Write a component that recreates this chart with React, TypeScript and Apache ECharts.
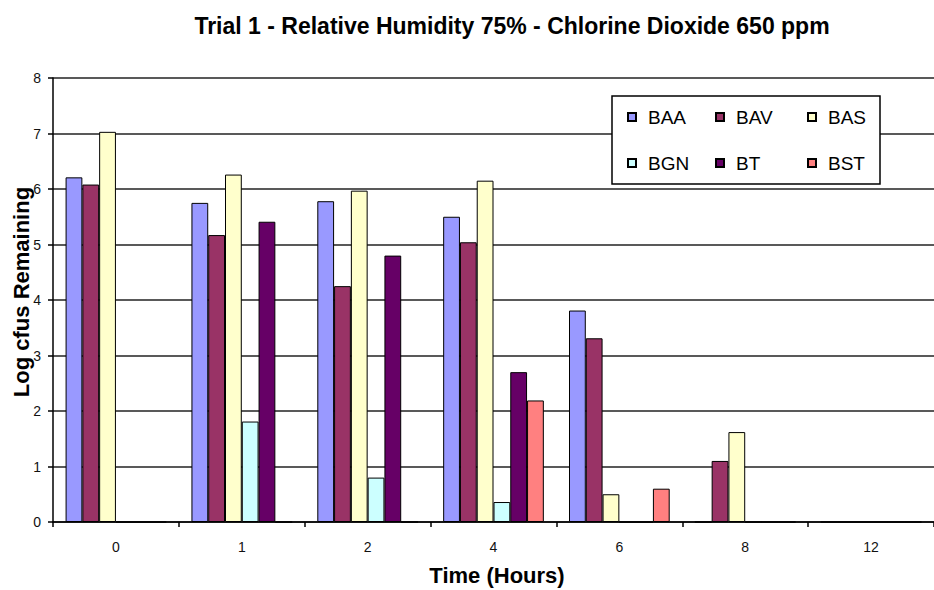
import React, { useEffect, useRef } from "react";
import * as echarts from "echarts";

const categories = ["0", "1", "2", "4", "6", "8", "12"];
const seriesNames = ["BAA", "BAV", "BAS", "BGN", "BT", "BST"];
const BAA = [6.21, 5.75, 5.78, 5.5, 3.81, 0, 0];
const BAV = [6.08, 5.17, 4.25, 5.04, 3.31, 1.1, 0];
const BAS = [7.03, 6.26, 5.97, 6.15, 0.5, 1.62, 0];
const BGN = [0, 1.81, 0.8, 0.36, 0, 0, 0];
const BT = [0, 5.41, 4.8, 2.7, 0, 0, 0];
const BST = [0, 0, 0, 2.19, 0.6, 0, 0];
const seriesValues = [BAA, BAV, BAS, BGN, BT, BST];
const colors = ["#9999FF", "#993366", "#FFFFCC", "#CCFFFF", "#660066", "#FF8080"];
const yTicks = [0, 1, 2, 3, 4, 5, 6, 7, 8];
const titleText = "Trial 1 - Relative Humidity 75% - Chlorine Dioxide 650 ppm";
const xName = "Time (Hours)";
const yName = "Log cfus Remaining";

const SANS = '"Liberation Sans", Arial, sans-serif';

export default function App() {
  const ref = useRef<HTMLDivElement>(null);
  useEffect(() => {
    if (!ref.current) return;
    const chart = echarts.init(ref.current, undefined, { renderer: "svg" });
    const legendCols = [
      ["BAA", "BGN"],
      ["BAV", "BT"],
      ["BAS", "BST"],
    ];
    const legendLefts = [627, 715, 807];
    chart.setOption({
      animation: false,
      backgroundColor: "#ffffff",
      title: {
        text: titleText,
        left: 507,
        top: 9,
        textAlign: "center",
        textStyle: { fontFamily: SANS, fontSize: 23, fontWeight: "bold", color: "#000" },
      },
      grid: { left: 53, top: 78, width: 890, height: 444, containLabel: false },
      legend: legendCols.map((d, i) => ({
        data: d,
        orient: "vertical",
        left: legendLefts[i],
        top: 107,
        itemWidth: 8,
        itemHeight: 8,
        itemGap: 26,
        icon: "rect",
        padding: 0,
        z: 5,
        textStyle: { fontFamily: SANS, fontSize: 19, color: "#000", lineHeight: 20, padding: [0, 0, 0, 7] },
      })),
      graphic: [
        {
          type: "rect",
          z: 4,
          shape: { x: 612, y: 96, width: 268, height: 88 },
          style: { fill: "#fff", stroke: "#000", lineWidth: 1.5 },
        },
        {
          type: "text",
          x: 21,
          y: 292,
          rotation: Math.PI / 2,
          style: {
            text: yName,
            fontFamily: SANS,
            fontSize: 22,
            fontWeight: "bold",
            fill: "#000",
            align: "center",
            verticalAlign: "middle",
          },
        },
        {
          type: "text",
          x: 497,
          y: 575,
          style: {
            text: xName,
            fontFamily: SANS,
            fontSize: 22,
            fontWeight: "bold",
            fill: "#000",
            align: "center",
            verticalAlign: "middle",
          },
        },
      ],
      xAxis: {
        type: "category",
        data: categories,
        axisLine: { lineStyle: { color: "#000", width: 1.5 } },
        axisTick: { show: true, length: 5, lineStyle: { color: "#000", width: 1.5 } },
        axisLabel: { margin: 18, fontFamily: SANS, fontSize: 14, color: "#111" },
        splitLine: { show: false },
      },
      yAxis: {
        type: "value",
        min: yTicks[0],
        max: yTicks[yTicks.length - 1],
        interval: 1,
        axisLine: { show: true, lineStyle: { color: "#000", width: 1.5 } },
        axisTick: { show: true, length: 5, lineStyle: { color: "#000", width: 1.5 } },
        axisLabel: { margin: 12, fontFamily: SANS, fontSize: 14, color: "#111" },
        splitLine: { show: true, lineStyle: { color: "#222", width: 1.5 } },
      },
      series: seriesNames.map((name, i) => ({
        name,
        type: "bar",
        data: seriesValues[i],
        barGap: "0%",
        barCategoryGap: "20%",
        itemStyle: { color: colors[i], borderColor: "#000", borderWidth: 1 },
      })),
    });
    return () => chart.dispose();
  }, []);
  return <div ref={ref} style={{ width: 934, height: 590, position: "absolute", left: 0, top: 0 }} />;
}
